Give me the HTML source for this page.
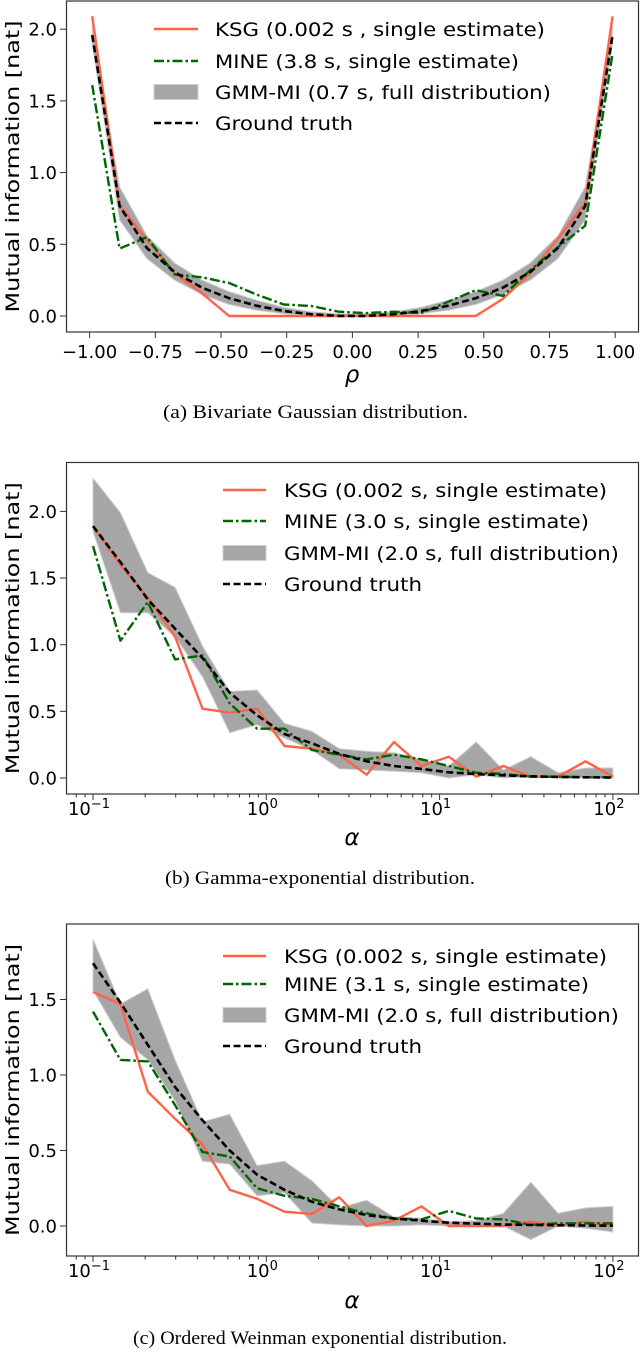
<!DOCTYPE html>
<html><head><meta charset="utf-8"><style>
html,body{margin:0;padding:0;background:#fff;}
svg{display:block;}
text{font-family:"DejaVu Sans","Liberation Sans",sans-serif;}
.cap{font-family:"Liberation Serif",serif;font-size:19px;}
</style></head><body>
<svg id="fig" width="640" height="1353" viewBox="0 0 640 1353" xmlns="http://www.w3.org/2000/svg"></svg>
<script>
// ---- Panel (a) data ----
const rhoVals = [-0.99,-0.886,-0.782,-0.677,-0.573,-0.469,-0.365,-0.261,-0.156,-0.052,0.052,0.156,0.261,0.365,0.469,0.573,0.677,0.782,0.886,0.99];
const aKSG = [2.09,0.77,0.53,0.30,0.16,0,0,0,0,0,0,0,0,0,0,0.12,0.30,0.54,0.79,2.09];
const aMINE = [1.61,0.47,0.55,0.29,0.27,0.23,0.15,0.08,0.07,0.03,0.02,0.03,0.02,0.10,0.18,0.14,0.32,0.48,0.63,1.83];
const aGT = [1.959,0.767,0.474,0.307,0.198,0.124,0.072,0.035,0.012,0.001,0.001,0.012,0.035,0.072,0.124,0.198,0.307,0.474,0.767,1.959];
const aLo = [1.90,0.67,0.40,0.25,0.15,0.08,0.04,0.015,0.003,0,0,0.003,0.015,0.04,0.08,0.15,0.25,0.40,0.67,1.90];
const aHi = [2.02,0.90,0.56,0.37,0.25,0.17,0.11,0.06,0.03,0.015,0.015,0.03,0.06,0.11,0.17,0.25,0.37,0.56,0.90,2.02];
const aXTicks = [-1,-0.75,-0.5,-0.25,0,0.25,0.5,0.75,1];
const aXTickLabels = ["−1.00","−0.75","−0.50","−0.25","0.00","0.25","0.50","0.75","1.00"];
const yTicksA = [0,0.5,1,1.5,2];
const yTickLabelsA = ["0.0","0.5","1.0","1.5","2.0"];
// ---- Panel (b) data ----
const logAlpha = [-1,-0.842,-0.684,-0.526,-0.368,-0.211,-0.053,0.105,0.263,0.421,0.579,0.737,0.895,1.053,1.211,1.368,1.526,1.684,1.842,2];
const bKSG = [1.89,1.60,1.35,1.06,0.52,0.49,0.52,0.24,0.22,0.175,0.025,0.27,0.09,0.16,0.01,0.09,0.01,0.01,0.125,0.01];
const bMINE = [1.74,1.03,1.32,0.89,0.92,0.56,0.37,0.37,0.21,0.175,0.14,0.175,0.14,0.09,0.04,0.03,0.01,0.01,0.005,0.005];
const bGT = [1.89,1.62,1.34,1.12,0.90,0.64,0.47,0.33,0.26,0.18,0.125,0.09,0.068,0.043,0.03,0.02,0.013,0.008,0.005,0.003];
const bLo = [1.85,1.24,1.24,1.06,0.76,0.34,0.40,0.30,0.21,0.07,0.06,0.05,0.04,0,0.025,0,0.01,0,0,0];
const bHi = [2.25,1.99,1.54,1.43,0.99,0.65,0.66,0.41,0.35,0.22,0.20,0.19,0.14,0.09,0.27,0.06,0.16,0.04,0.075,0.075];
// ---- Panel (c) data ----
const cKSG = [1.55,1.47,0.89,0.71,0.54,0.24,0.18,0.095,0.08,0.19,0,0.035,0.13,0,0,0,0.03,0,0.03,0];
const cMINE = [1.42,1.10,1.09,0.80,0.49,0.46,0.25,0.20,0.18,0.13,0.084,0.05,0.044,0.10,0.05,0.044,0.007,0.018,0.018,0.018];
const cGT = [1.74,1.48,1.20,0.92,0.70,0.50,0.34,0.24,0.16,0.11,0.073,0.05,0.035,0.022,0.015,0.01,0.007,0.005,0.003,0.002];
const cLo = [1.56,1.25,1.10,0.83,0.43,0.41,0.20,0.22,0.02,0.007,0,0,0.007,0,0,0,-0.09,0,-0.015,-0.04];
const cHi = [1.90,1.47,1.57,1.10,0.69,0.74,0.40,0.43,0.30,0.12,0.17,0.06,0.05,0.03,0.035,0.084,0.29,0.084,0.12,0.13];
const yTicksC = [0,0.5,1,1.5];
const yTickLabelsC = ["0.0","0.5","1.0","1.5"];
const logMajor = [-1,0,1,2];
const logMajorExp = ["−1","0","1","2"];

const NS = "http://www.w3.org/2000/svg";
const svg = document.getElementById('fig');
function mk(tag, attrs, parent){ const e=document.createElementNS(NS,tag); for(const k in attrs) e.setAttribute(k,attrs[k]); (parent||svg).appendChild(e); return e; }

function panel(cfg){
  const g = mk('g',{});
  
  
  const X = cfg.xf, Y = cfg.yf;
  let d = '';
  cfg.xs.forEach((x,i)=>{ d += (i?'L':'M')+X(x).toFixed(1)+','+Y(cfg.hi[i]).toFixed(1); });
  for(let i=cfg.xs.length-1;i>=0;i--) d += 'L'+X(cfg.xs[i]).toFixed(1)+','+Y(cfg.lo[i]).toFixed(1);
  const band = mk('path',{d:d+'Z',fill:'#a6a6a6',stroke:'#cfcfcf','stroke-width':1},g);
  
  
  const line=(arr,style,name)=>{
    const pts = cfg.xs.map((x,i)=>X(x).toFixed(1)+','+Y(arr[i]).toFixed(1)).join(' ');
    const p = mk('polyline',Object.assign({points:pts,fill:'none','stroke-linejoin':'round'},style),g);
    
    
  };
  line(cfg.ksg,{stroke:'#ff6347','stroke-width':2.4},'ksg-line');
  line(cfg.mine,{stroke:'#006400','stroke-width':2.4,'stroke-dasharray':'10,3,2.5,3'},'mine-line');
  line(cfg.gt,{stroke:'#000','stroke-width':2.6,'stroke-dasharray':'7,3.5'},'ground-truth-line');
  const fr = mk('rect',{x:66.5,y:cfg.top,width:572,height:cfg.bot-cfg.top,fill:'none',stroke:'#333','stroke-width':1.2},g);
  
  
  cfg.yticks.forEach((v,i)=>{
    const y=Y(v);
    mk('line',{x1:60,x2:66.5,y1:y,y2:y,stroke:'#333'},g);
    const t=mk('text',{x:57,y:y+6.5,'text-anchor':'end','font-size':18},g);
    t.textContent=cfg.ylabels[i];
    
    
  });
  if(cfg.log){
    for(let dec=-2;dec<=2;dec++){
      for(let m=1;m<10;m++){
        const lv=dec+Math.log10(m);
        if(lv<-1.13||lv>2.07) continue;
        const x=X(lv), len=(m===1)?6:3.5;
        mk('line',{x1:x,x2:x,y1:cfg.bot,y2:cfg.bot+len,stroke:'#333'},g);
      }
    }
    logMajor.forEach((v,i)=>{
      const t=mk('text',{x:X(v)-4,y:cfg.bot+21,'text-anchor':'middle','font-size':18},g);
      t.textContent='10';
      const s=mk('tspan',{dy:-7,'font-size':13},t); s.textContent=logMajorExp[i];
      
      
    });
  } else {
    cfg.xticks.forEach((v,i)=>{
      const x=X(v);
      mk('line',{x1:x,x2:x,y1:cfg.bot,y2:cfg.bot+6,stroke:'#333'},g);
      const t=mk('text',{x:x,y:cfg.bot+26,'text-anchor':'middle','font-size':18},g);
      t.textContent=cfg.xlabels[i];
      
      
    });
  }
  const xl=mk('text',{x:352,y:cfg.xlabY,'text-anchor':'middle','font-size':23,'font-style':'italic'},g);
  xl.textContent=cfg.xlab;
  
  
  const cy=(cfg.top+cfg.bot)/2;
  const yl=mk('text',{x:19,y:cy,'text-anchor':'middle','font-size':19,textLength:292,lengthAdjust:'spacingAndGlyphs',transform:'rotate(-90 19 '+cy+')'},g);
  yl.textContent='Mutual information [nat]';
  
  
  const lg=mk('g',{},g);
  
  
  const [h1,h2,tx]=cfg.leg;
  cfg.legTexts.forEach((s,i)=>{
    const y=cfg.legY[i];
    if(i===0) mk('line',{x1:h1,x2:h2,y1:y,y2:y,stroke:'#ff6347','stroke-width':2.4},lg);
    if(i===1) mk('line',{x1:h1,x2:h2,y1:y,y2:y,stroke:'#006400','stroke-width':2.4,'stroke-dasharray':'10,3,2.5,3'},lg);
    if(i===2) mk('rect',{x:h1,y:y-7.5,width:h2-h1,height:15,fill:'#a6a6a6',stroke:'#cfcfcf'},lg);
    if(i===3) mk('line',{x1:h1,x2:h2,y1:y,y2:y,stroke:'#000','stroke-width':2.6,'stroke-dasharray':'7,3.5'},lg);
    const t=mk('text',{x:tx,y:y+7,'font-size':19,textLength:cfg.legW[i],lengthAdjust:'spacingAndGlyphs'},lg);
    t.textContent=s;
    
    
  });
  const c=mk('text',{x:cfg.capX,y:cfg.capY,class:'cap',textLength:cfg.capW,lengthAdjust:'spacingAndGlyphs'},g);
  c.textContent=cfg.cap;
  
  
}

const linX = v => 89.6 + (v+1)/0.25*65.7;
const logX = v => 93 + (v+1)*173.3;

panel({name:'panel-a-bivariate-gaussian',xs:rhoVals,ksg:aKSG,mine:aMINE,gt:aGT,lo:aLo,hi:aHi,
  xf:linX,yf:v=>316-v*143.4,top:1,bot:332,yticks:yTicksA,ylabels:yTickLabelsA,log:false,
  xticks:aXTicks,xlabels:aXTickLabels,xlab:'ρ',xlabY:382,
  leg:[154,198,215],legY:[29,61,92,123],legW:[330,304,336,138],
  legTexts:['KSG (0.002 s , single estimate)','MINE (3.8 s, single estimate)','GMM-MI (0.7 s, full distribution)','Ground truth'],
  capX:163,capW:305,capY:418,cap:'(a) Bivariate Gaussian distribution.'});

panel({name:'panel-b-gamma-exponential',xs:logAlpha,ksg:bKSG,mine:bMINE,gt:bGT,lo:bLo,hi:bHi,
  xf:logX,yf:v=>778-v*133.3,top:462.5,bot:794,yticks:yTicksA,ylabels:yTickLabelsA,log:true,
  xlab:'α',xlabY:845,
  leg:[223,266,284],legY:[490,521,553,584],legW:[323,305,335,138],
  legTexts:['KSG (0.002 s, single estimate)','MINE (3.0 s, single estimate)','GMM-MI (2.0 s, full distribution)','Ground truth'],
  capX:165,capW:310,capY:884,cap:'(b) Gamma-exponential distribution.'});

panel({name:'panel-c-ordered-weinman',xs:logAlpha,ksg:cKSG,mine:cMINE,gt:cGT,lo:cLo,hi:cHi,
  xf:logX,yf:v=>1226-v*151,top:924,bot:1256,yticks:yTicksC,ylabels:yTickLabelsC,log:true,
  xlab:'α',xlabY:1308,
  leg:[223,266,284],legY:[956,984,1015,1046],legW:[323,305,335,138],
  legTexts:['KSG (0.002 s, single estimate)','MINE (3.1 s, single estimate)','GMM-MI (2.0 s, full distribution)','Ground truth'],
  capX:133,capW:374,capY:1344,cap:'(c) Ordered Weinman exponential distribution.'});
</script>
</body></html>
